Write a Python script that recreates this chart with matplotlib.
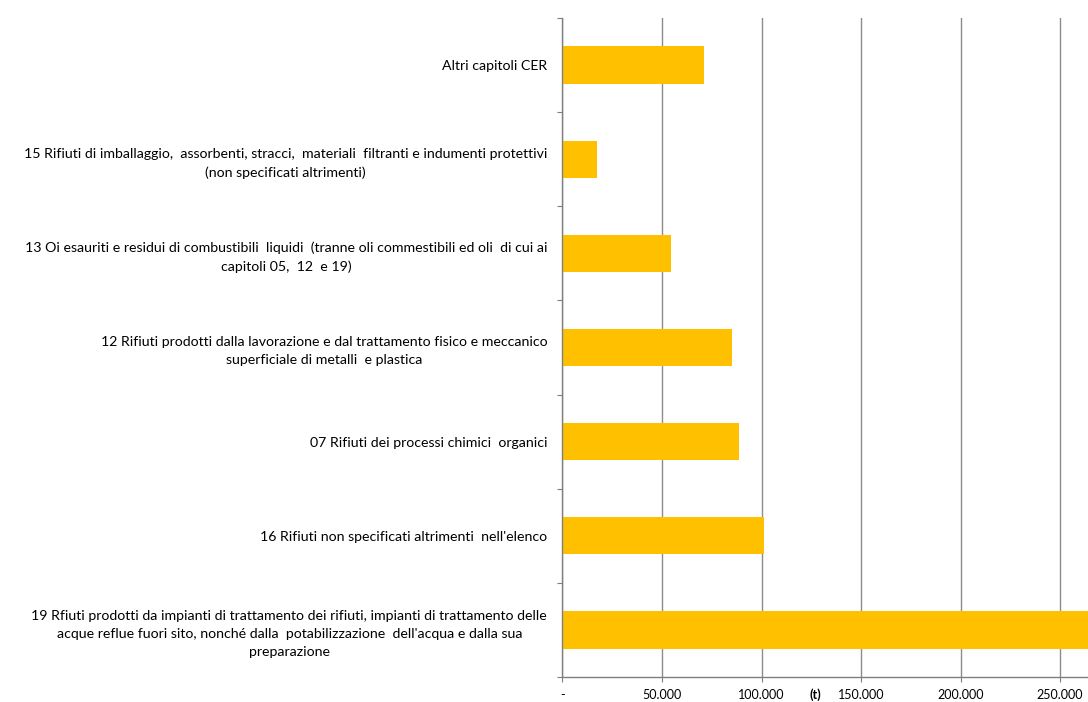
import numpy as np
import matplotlib
matplotlib.use("Agg")
import matplotlib.pyplot as plt
from matplotlib.ticker import FuncFormatter, FixedLocator
import matplotlib.transforms as mtransforms

# Rifiuti speciali pericolosi per capitolo CER (tonnellate), dall'alto verso il basso
categories = [
    "Altri capitoli CER",
    "15 Rifiuti di imballaggio,  assorbenti, stracci,  materiali  filtranti e indumenti protettivi\n(non specificati altrimenti)",
    "13 Oi esauriti e residui di combustibili  liquidi  (tranne oli commestibili ed oli  di cui ai\ncapitoli 05,  12  e 19)",
    "12 Rifiuti prodotti dalla lavorazione e dal trattamento fisico e meccanico\nsuperficiale di metalli  e plastica",
    "07 Rifiuti dei processi chimici  organici",
    "16 Rifiuti non specificati altrimenti  nell'elenco",
    "19 Rfiuti prodotti da impianti di trattamento dei rifiuti, impianti di trattamento delle\nacque reflue fuori sito, nonché dalla  potabilizzazione  dell'acqua e dalla sua\npreparazione",
]
values = [71200, 17200, 54400, 85000, 88700, 101100, 275000]
x_ticks = [0, 50000, 100000, 150000, 200000, 250000]

plt.rcParams["font.family"] = ["Lato", "DejaVu Sans"]

fig = plt.figure(figsize=(10.88, 7.02), dpi=100)
ax = fig.add_axes([0.517, 0.036, 0.483, 0.938])

y = np.arange(len(categories))
ax.barh(y, values, height=0.4, color="#FFC000", zorder=3)

ax.set_xlim(0, 264000)
ax.set_ylim(len(categories) - 0.5, -0.5)

# vertical grid
ax.xaxis.set_major_locator(FixedLocator(x_ticks))
ax.grid(axis="x", color="#8c8c8c", linewidth=1.0, zorder=0)
ax.xaxis.set_major_formatter(FuncFormatter(lambda v, p: "-" if v == 0 else f"{int(v):,}".replace(",", ".")))
ax.tick_params(axis="x", length=3.5, color="#7f7f7f", labelsize=9, pad=5, labelcolor="#000000")

# category boundaries get the tick marks, labels sit in between
ax.yaxis.set_major_locator(FixedLocator(np.arange(-0.5, len(categories), 1.0)))
ax.yaxis.set_minor_locator(FixedLocator(y))
ax.set_yticklabels([], minor=False)
ax.set_yticklabels(categories, minor=True, fontsize=10.2, multialignment="center", linespacing=1.6)
ax.tick_params(axis="y", which="major", length=3.5, color="#7f7f7f")
ax.tick_params(axis="y", which="minor", length=0, pad=11)

for side in ["top", "right"]:
    ax.spines[side].set_visible(False)
for side in ["left", "bottom"]:
    ax.spines[side].set_color("#7f7f7f")
    ax.spines[side].set_linewidth(1.0)
    ax.spines[side].set_zorder(4)

trans = mtransforms.blended_transform_factory(ax.transData, ax.transAxes)
ax.text(126800, -0.027, "(t)", transform=trans, ha="center", va="center",
        fontsize=9, fontweight="bold")

fig.savefig("out.png", dpi=100)
